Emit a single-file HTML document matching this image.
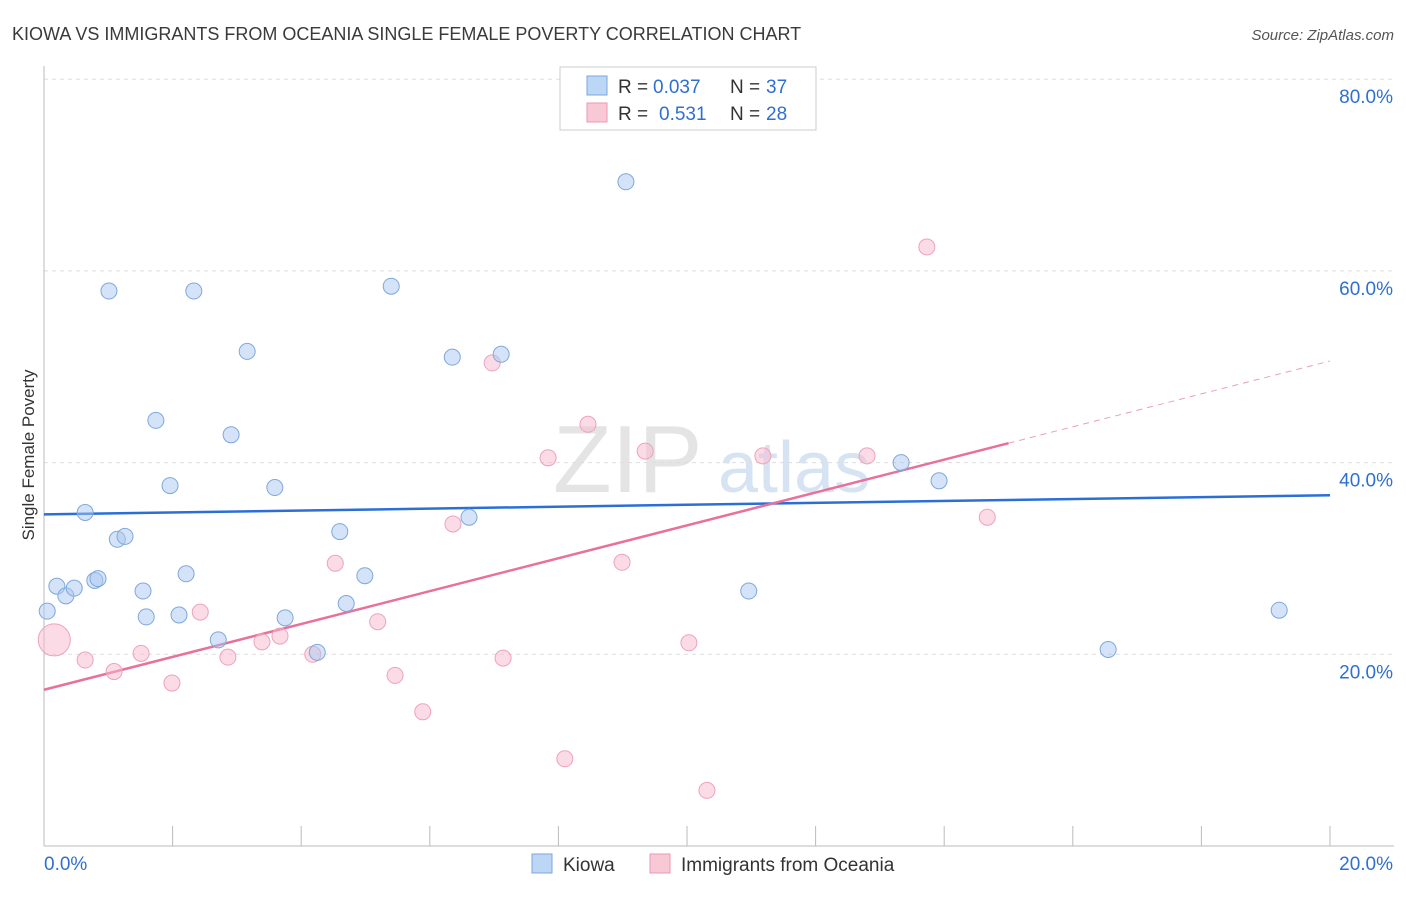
<!DOCTYPE html>
<html><head><meta charset="utf-8"><style>
body{margin:0;background:#fff;font-family:"Liberation Sans",sans-serif;}
svg text{font-family:"Liberation Sans",sans-serif;}
</style></head><body>
<svg id="chart" width="1406" height="892">
<text x="12" y="40" font-size="18" fill="#3a3a3a">KIOWA VS IMMIGRANTS FROM OCEANIA SINGLE FEMALE POVERTY CORRELATION CHART</text>
<text x="1394" y="40" font-size="15" fill="#555" font-style="italic" text-anchor="end">Source: ZipAtlas.com</text>
<text transform="translate(34,455) rotate(-90)" font-size="17" fill="#333" text-anchor="middle">Single Female Poverty</text>
<g><text x="553" y="492" font-size="96" fill="#e4e4e4" font-family="Liberation Serif">ZIP</text><text x="718" y="492" font-size="72" fill="#d6e3f3">atlas</text></g>
<g id="grid"></g><g id="axes"></g><g id="trend"></g><g id="points"></g>
<g>
<rect x="560" y="67" width="256" height="63" fill="#fff" stroke="#ccc"/>
<rect x="587" y="76" width="20" height="19" fill="#bcd6f5" stroke="#7aa6e0"/>
<text x="618" y="93" font-size="19" fill="#333">R = </text><text x="653" y="93" font-size="19" fill="#2f6fd1">0.037</text>
<text x="730" y="93" font-size="19" fill="#333">N = </text><text x="766" y="93" font-size="19" fill="#2f6fd1">37</text>
<rect x="587" y="103" width="20" height="19" fill="#f9c8d6" stroke="#ec98b2"/>
<text x="618" y="120" font-size="19" fill="#333">R = </text><text x="659" y="120" font-size="19" fill="#2f6fd1">0.531</text>
<text x="730" y="120" font-size="19" fill="#333">N = </text><text x="766" y="120" font-size="19" fill="#2f6fd1">28</text>
</g>
<g>
<rect x="532" y="854" width="20" height="19" fill="#bcd6f5" stroke="#7aa6e0"/>
<text x="563" y="871" font-size="19" fill="#333">Kiowa</text>
<rect x="650" y="854" width="20" height="19" fill="#f9c8d6" stroke="#ec98b2"/>
<text x="681" y="871" font-size="19" fill="#333">Immigrants from Oceania</text>
</g>
</svg>
<script>
const yTicks=[20,40,60,80];
const yTickLabels=["20.0%","40.0%","60.0%","80.0%"];
const xTickLabels=["0.0%","20.0%"];
const blueX=[0.05,0.20,0.34,0.47,0.64,0.79,0.84,1.01,1.14,1.26,1.54,1.59,1.74,1.96,2.10,2.21,2.33,2.71,2.91,3.16,3.59,3.75,4.25,4.60,4.70,4.99,5.40,6.35,6.61,7.11,9.05,10.96,13.33,13.92,16.55,19.21];
const blueY=[24.5,27.1,26.1,26.9,34.8,27.7,27.9,57.9,32.0,32.3,26.6,23.9,44.4,37.6,24.1,28.4,57.9,21.5,42.9,51.6,37.4,23.8,20.2,32.8,25.3,28.2,58.4,51.0,34.3,51.3,69.3,26.6,40.0,38.1,20.5,24.6];
const pinkX=[0.16,0.64,1.09,1.51,1.99,2.43,2.86,3.39,3.67,4.18,4.53,5.19,5.46,5.89,6.36,6.97,7.14,7.84,8.10,8.46,8.99,9.35,10.03,10.31,11.18,12.80,13.73,14.67];
const pinkY=[21.5,19.4,18.2,20.1,17.0,24.4,19.7,21.3,21.9,20.0,29.5,23.4,17.8,14.0,33.6,50.4,19.6,40.5,9.1,44.0,29.6,41.2,21.2,5.8,40.7,40.7,62.5,34.3];
const blueTrend=[34.6,36.6];
const pinkTrend=[16.3,50.6];
const pinkSolidEnd=15.0;
const NS="http://www.w3.org/2000/svg";
const X=v=>44+v*64.3, Y=v=>846-v*9.585;
function mk(t,a,p){const e=document.createElementNS(NS,t);for(const k in a)e.setAttribute(k,a[k]);p.appendChild(e);return e;}
const grid=document.getElementById('grid'),axes=document.getElementById('axes'),trend=document.getElementById('trend'),pts=document.getElementById('points');
yTicks.forEach((t,i)=>{
 const l=mk('line',{x1:44,x2:1394,y1:Y(t),y2:Y(t),stroke:'#ddd','stroke-dasharray':'4,4'},grid);
 
 
 const tx=mk('text',{x:1393,y:Y(t)+24,'font-size':19,fill:'#2f6fd1','text-anchor':'end'},axes);tx.textContent=yTickLabels[i];
 
 
});
const ya=mk('line',{x1:44,x2:44,y1:66,y2:846,stroke:'#bbb'},axes);


const xa=mk('line',{x1:44,x2:1394,y1:846,y2:846,stroke:'#bbb'},axes);


for(let i=0;i<=10;i++){const t=mk('line',{x1:X(i*2),x2:X(i*2),y1:826,y2:846,stroke:'#bbb'},axes);
 
 }
[[0,44,'start'],[20,1393,'end']].forEach((d,i)=>{const t=mk('text',{x:d[1],y:870,'font-size':19,fill:'#2f6fd1','text-anchor':d[2]},axes);t.textContent=xTickLabels[i];
 
 });
const pl=v=>pinkTrend[0]+(pinkTrend[1]-pinkTrend[0])*v/20;
const bt=mk('line',{x1:X(0),y1:Y(blueTrend[0]),x2:X(20),y2:Y(blueTrend[1]),stroke:'#2b6fd6','stroke-width':2.5},trend);


const pt=mk('line',{x1:X(0),y1:Y(pl(0)),x2:X(pinkSolidEnd),y2:Y(pl(pinkSolidEnd)),stroke:'#e8709a','stroke-width':2.5},trend);


const pd=mk('line',{x1:X(pinkSolidEnd),y1:Y(pl(pinkSolidEnd)),x2:X(20),y2:Y(pl(20)),stroke:'#e8a0b8','stroke-width':1,'stroke-dasharray':'6,5'},trend);


pinkX.forEach((x,i)=>{const c=mk('circle',{cx:X(x),cy:Y(pinkY[i]),r:i===0?16:8,fill:'rgba(247,185,205,0.5)',stroke:'#eea2bb','stroke-width':1},pts);
 
 });
blueX.forEach((x,i)=>{const c=mk('circle',{cx:X(x),cy:Y(blueY[i]),r:8,fill:'rgba(170,200,240,0.5)',stroke:'#7ea8dc','stroke-width':1},pts);
 
 });
</script>
</body></html>
